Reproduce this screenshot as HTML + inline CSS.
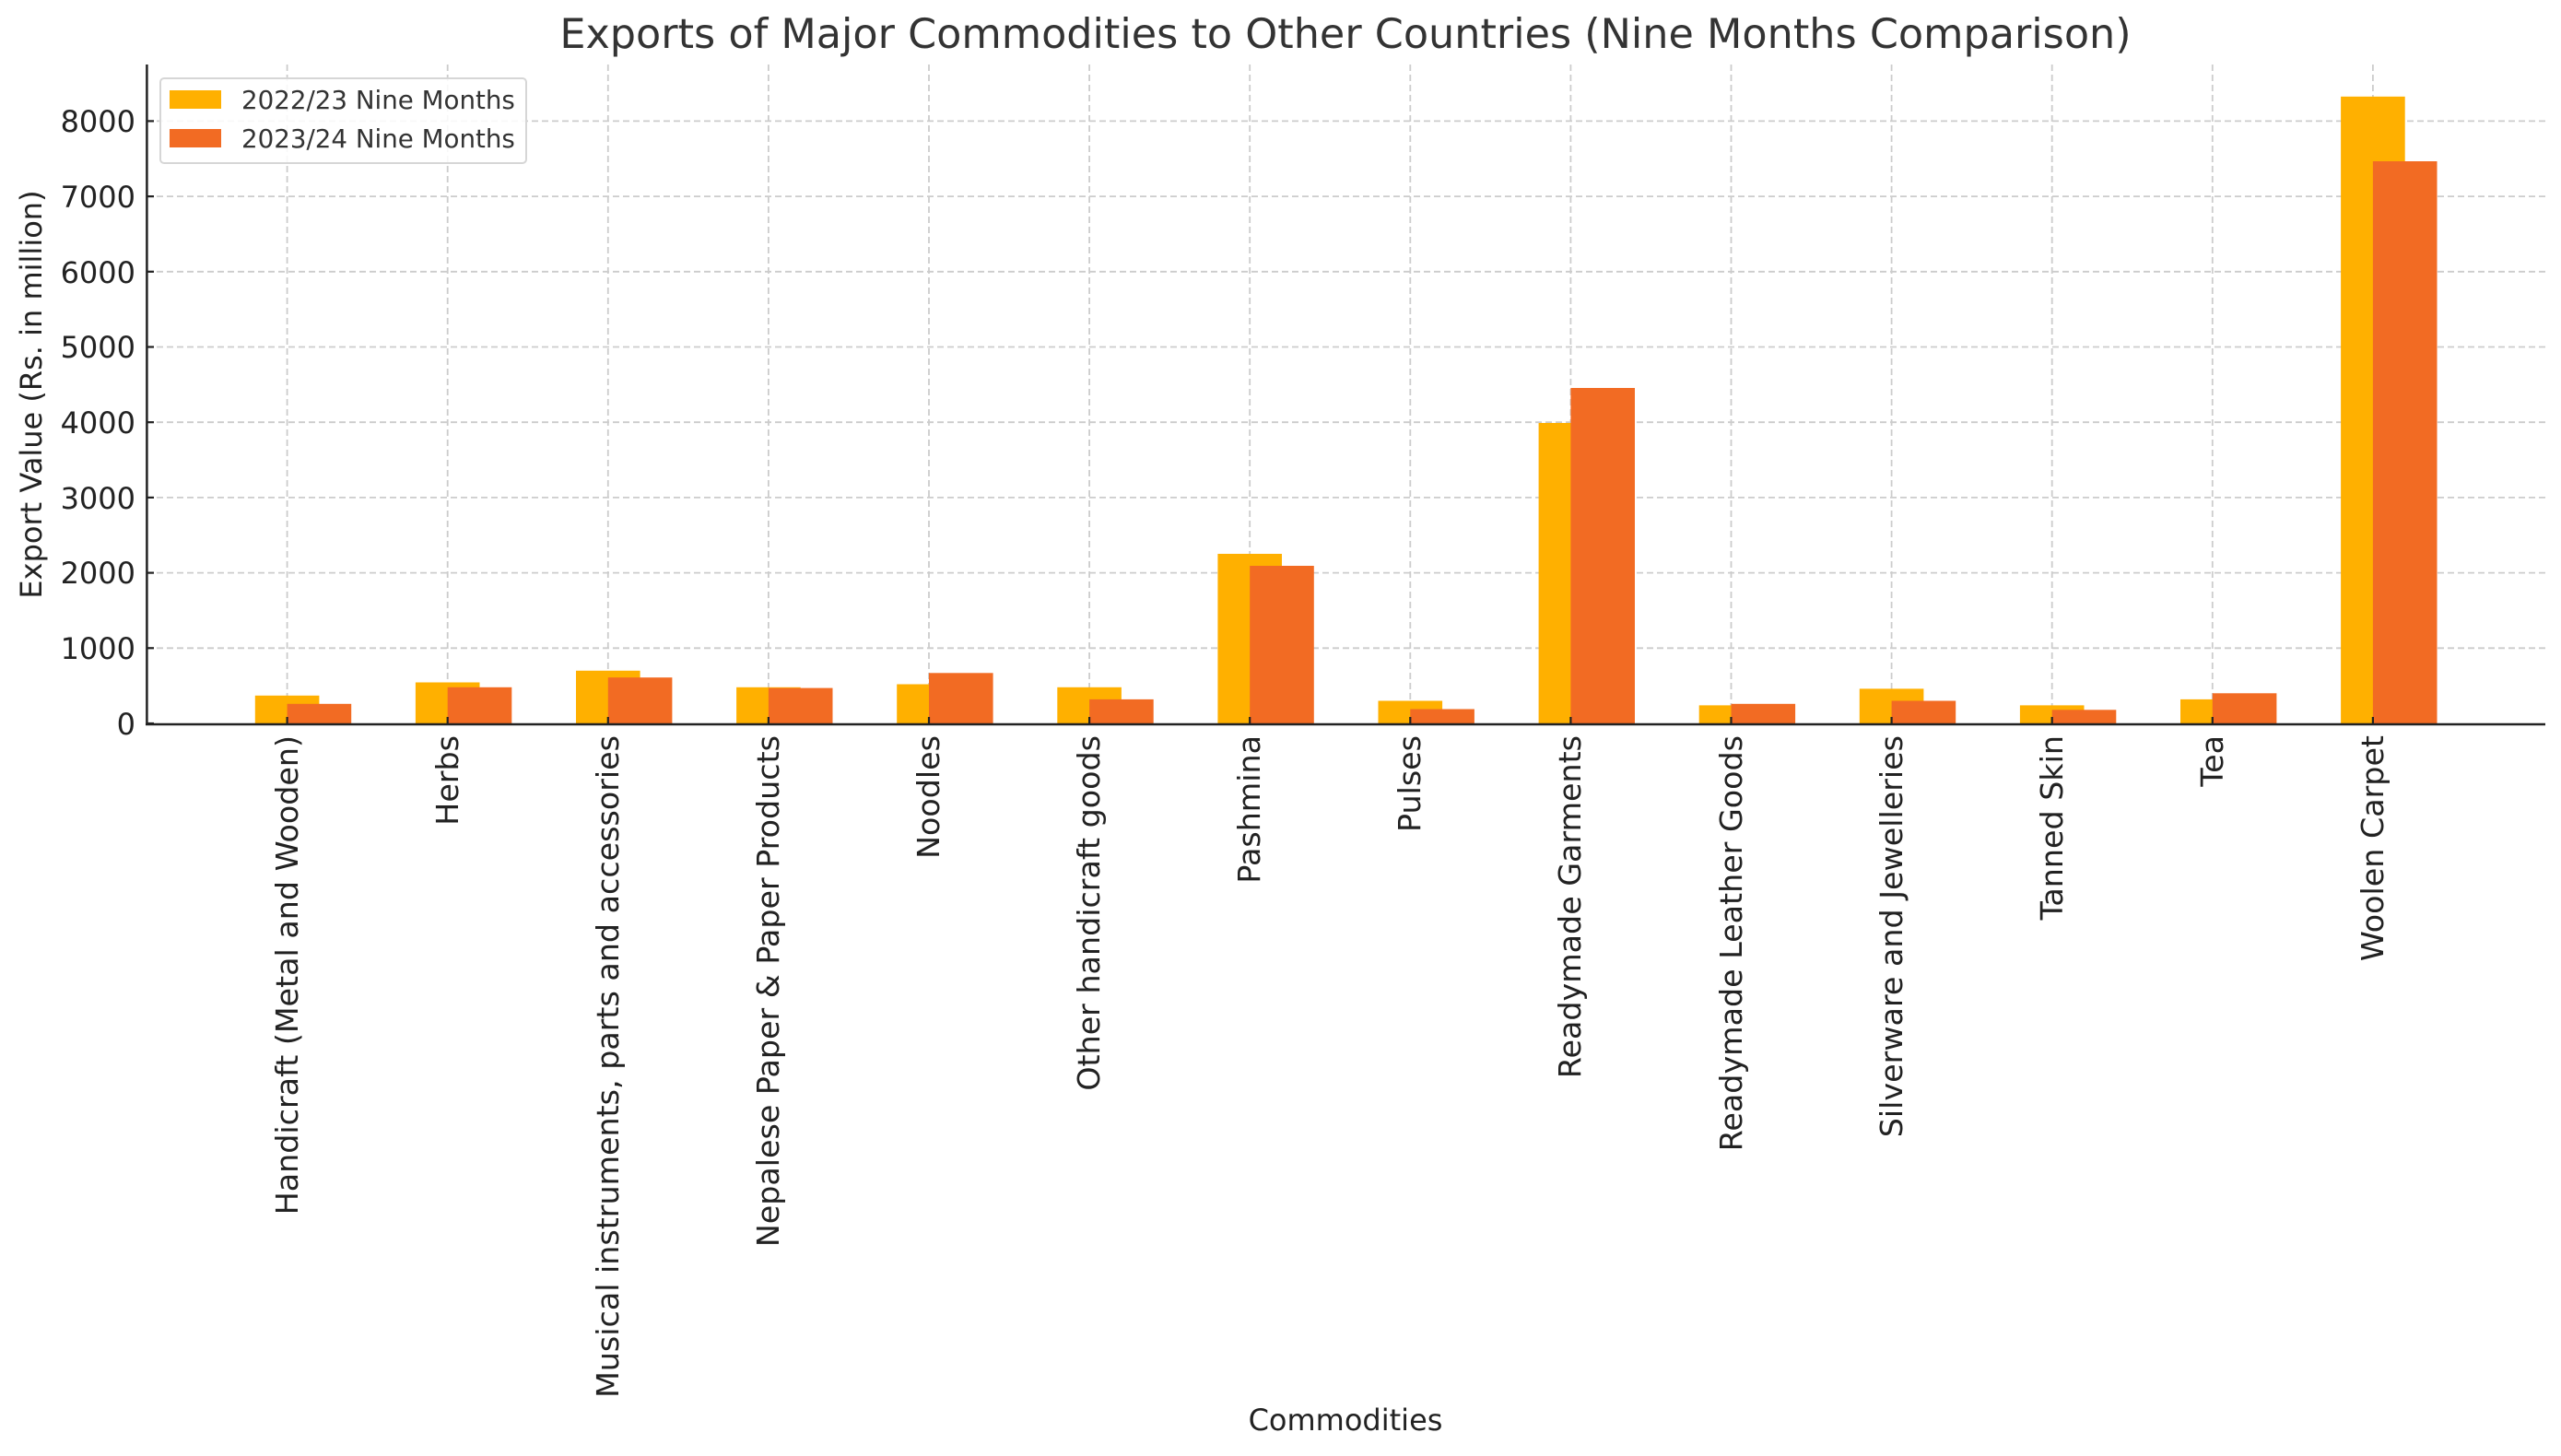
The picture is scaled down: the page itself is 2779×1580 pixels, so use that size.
<!DOCTYPE html>
<html><head><meta charset="utf-8"><style>
html,body{margin:0;padding:0;background:#fff;}
svg{display:block;font-family:"DejaVu Sans","Liberation Sans",sans-serif;}
</style></head><body>
<svg width="2779" height="1580" viewBox="0 0 2779 1580" xmlns="http://www.w3.org/2000/svg">
<rect width="2779" height="1580" fill="#fff"/>
<g stroke="#cccccc" stroke-width="1.8" stroke-dasharray="7,4" fill="none">
<line x1="159" x2="2762" y1="703.3" y2="703.3"/>
<line x1="159" x2="2762" y1="621.6" y2="621.6"/>
<line x1="159" x2="2762" y1="539.9" y2="539.9"/>
<line x1="159" x2="2762" y1="458.2" y2="458.2"/>
<line x1="159" x2="2762" y1="376.5" y2="376.5"/>
<line x1="159" x2="2762" y1="294.8" y2="294.8"/>
<line x1="159" x2="2762" y1="213.1" y2="213.1"/>
<line x1="159" x2="2762" y1="131.4" y2="131.4"/>
<line y1="70" y2="786" x1="311.6" x2="311.6"/>
<line y1="70" y2="786" x1="485.7" x2="485.7"/>
<line y1="70" y2="786" x1="659.8" x2="659.8"/>
<line y1="70" y2="786" x1="833.9" x2="833.9"/>
<line y1="70" y2="786" x1="1008" x2="1008"/>
<line y1="70" y2="786" x1="1182.1" x2="1182.1"/>
<line y1="70" y2="786" x1="1356.2" x2="1356.2"/>
<line y1="70" y2="786" x1="1530.3" x2="1530.3"/>
<line y1="70" y2="786" x1="1704.4" x2="1704.4"/>
<line y1="70" y2="786" x1="1878.5" x2="1878.5"/>
<line y1="70" y2="786" x1="2052.6" x2="2052.6"/>
<line y1="70" y2="786" x1="2226.7" x2="2226.7"/>
<line y1="70" y2="786" x1="2400.8" x2="2400.8"/>
<line y1="70" y2="786" x1="2574.9" x2="2574.9"/>
</g>
<g fill="#FFB000">
<rect x="276.8" y="754.8" width="69.6" height="30.2"/>
<rect x="450.9" y="740.5" width="69.6" height="44.5"/>
<rect x="625" y="727.8" width="69.6" height="57.2"/>
<rect x="799.1" y="745.8" width="69.6" height="39.2"/>
<rect x="973.2" y="742.5" width="69.6" height="42.5"/>
<rect x="1147.3" y="745.8" width="69.6" height="39.2"/>
<rect x="1321.4" y="601" width="69.6" height="184"/>
<rect x="1495.5" y="760.5" width="69.6" height="24.5"/>
<rect x="1669.6" y="459" width="69.6" height="326"/>
<rect x="1843.7" y="765.4" width="69.6" height="19.6"/>
<rect x="2017.8" y="747.4" width="69.6" height="37.6"/>
<rect x="2191.9" y="765.4" width="69.6" height="19.6"/>
<rect x="2366" y="758.9" width="69.6" height="26.1"/>
<rect x="2540.1" y="104.8" width="69.6" height="680.2"/>
</g>
<g fill="#F26B23">
<rect x="311.6" y="763.8" width="69.6" height="21.2"/>
<rect x="485.7" y="745.8" width="69.6" height="39.2"/>
<rect x="659.8" y="735.2" width="69.6" height="49.8"/>
<rect x="833.9" y="746.6" width="69.6" height="38.4"/>
<rect x="1008" y="730.3" width="69.6" height="54.7"/>
<rect x="1182.1" y="758.9" width="69.6" height="26.1"/>
<rect x="1356.2" y="614" width="69.6" height="171"/>
<rect x="1530.3" y="769.5" width="69.6" height="15.5"/>
<rect x="1704.4" y="421" width="69.6" height="364"/>
<rect x="1878.5" y="763.8" width="69.6" height="21.2"/>
<rect x="2052.6" y="760.5" width="69.6" height="24.5"/>
<rect x="2226.7" y="770.3" width="69.6" height="14.7"/>
<rect x="2400.8" y="752.3" width="69.6" height="32.7"/>
<rect x="2574.9" y="175" width="69.6" height="610"/>
</g>
<g stroke="#222" stroke-width="2.5">
<line x1="159.4" y1="70" x2="159.4" y2="786.5"/>
<line x1="158" y1="786" x2="2762" y2="786"/>
</g>
<g stroke="#222" stroke-width="2.2">
<line x1="311.6" x2="311.6" y1="786" y2="778"/><line x1="485.7" x2="485.7" y1="786" y2="778"/><line x1="659.8" x2="659.8" y1="786" y2="778"/><line x1="833.9" x2="833.9" y1="786" y2="778"/><line x1="1008" x2="1008" y1="786" y2="778"/><line x1="1182.1" x2="1182.1" y1="786" y2="778"/><line x1="1356.2" x2="1356.2" y1="786" y2="778"/><line x1="1530.3" x2="1530.3" y1="786" y2="778"/><line x1="1704.4" x2="1704.4" y1="786" y2="778"/><line x1="1878.5" x2="1878.5" y1="786" y2="778"/><line x1="2052.6" x2="2052.6" y1="786" y2="778"/><line x1="2226.7" x2="2226.7" y1="786" y2="778"/><line x1="2400.8" x2="2400.8" y1="786" y2="778"/><line x1="2574.9" x2="2574.9" y1="786" y2="778"/>
<line x1="159" x2="167" y1="785" y2="785"/><line x1="159" x2="167" y1="703.3" y2="703.3"/><line x1="159" x2="167" y1="621.6" y2="621.6"/><line x1="159" x2="167" y1="539.9" y2="539.9"/><line x1="159" x2="167" y1="458.2" y2="458.2"/><line x1="159" x2="167" y1="376.5" y2="376.5"/><line x1="159" x2="167" y1="294.8" y2="294.8"/><line x1="159" x2="167" y1="213.1" y2="213.1"/><line x1="159" x2="167" y1="131.4" y2="131.4"/>
</g>
<g font-size="32" fill="#222" text-anchor="end">
<text x="147" y="797">0</text>
<text x="147" y="715">1000</text>
<text x="147" y="633">2000</text>
<text x="147" y="552">3000</text>
<text x="147" y="470">4000</text>
<text x="147" y="388">5000</text>
<text x="147" y="307">6000</text>
<text x="147" y="225">7000</text>
<text x="147" y="143">8000</text>
</g>
<g font-size="33.3" fill="#222" text-anchor="end">
<text transform="translate(323,798) rotate(-90)">Handicraft (Metal and Wooden)</text>
<text transform="translate(497,798) rotate(-90)">Herbs</text>
<text transform="translate(671,798) rotate(-90)">Musical instruments, parts and accessories</text>
<text transform="translate(845,798) rotate(-90)">Nepalese Paper &amp; Paper Products</text>
<text transform="translate(1019,798) rotate(-90)">Noodles</text>
<text transform="translate(1193,798) rotate(-90)">Other handicraft goods</text>
<text transform="translate(1367,798) rotate(-90)">Pashmina</text>
<text transform="translate(1541,798) rotate(-90)">Pulses</text>
<text transform="translate(1715,798) rotate(-90)">Readymade Garments</text>
<text transform="translate(1890,798) rotate(-90)">Readymade Leather Goods</text>
<text transform="translate(2064,798) rotate(-90)">Silverware and Jewelleries</text>
<text transform="translate(2238,798) rotate(-90)">Tanned Skin</text>
<text transform="translate(2412,798) rotate(-90)">Tea</text>
<text transform="translate(2586,798) rotate(-90)">Woolen Carpet</text>
</g>
<text x="1460" y="1552" font-size="32" fill="#222" text-anchor="middle">Commodities</text>
<text transform="translate(45,428) rotate(-90)" font-size="32" fill="#222" text-anchor="middle">Export Value (Rs. in million)</text>
<text x="1460" y="52" font-size="44.5" fill="#333" text-anchor="middle">Exports of Major Commodities to Other Countries (Nine Months Comparison)</text>
<rect x="174" y="85" width="397" height="92" rx="4" fill="#fff" fill-opacity="0.85" stroke="#d6d6d6" stroke-width="2"/>
<rect x="184" y="98" width="56" height="20" fill="#FFB000"/>
<rect x="184" y="140" width="56" height="20" fill="#F26B23"/>
<g font-size="27.7" fill="#333">
<text x="262" y="118">2022/23 Nine Months</text>
<text x="262" y="160">2023/24 Nine Months</text>
</g>
</svg>
</body></html>
